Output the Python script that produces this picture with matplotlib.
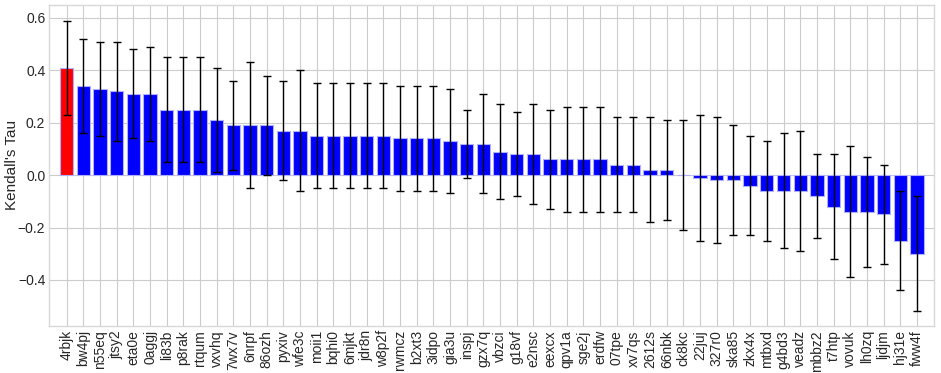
import numpy as np
import matplotlib
matplotlib.use("Agg")
import matplotlib.pyplot as plt

plt.style.use("seaborn-v0_8-whitegrid")
plt.rcParams['font.family'] = ['Liberation Sans', 'DejaVu Sans']

names = ["4rbjk", "bw4pj", "n55eq", "jtsy2", "eta0e", "0aggj", "li83b", "p8rak",
         "rtqum", "vxvhq", "7wx7v", "6nrpf", "86ozh", "pyxiv", "wfe3c", "moii1",
         "bqhi0", "6mjkt", "jdr8n", "w8p2f", "rwmcz", "b2xt3", "3idpo", "gia3u",
         "inspj", "gzx7q", "vbzci", "g18vf", "e2nsc", "eexcx", "qpv1a", "sge2j",
         "erdfw", "07tpe", "xv7qs", "2612s", "66nbk", "ck8kc", "22juj", "327r0",
         "ska85", "zkx4x", "mtbxd", "g4bd3", "veadz", "mbbz2", "t7htp", "vovuk",
         "lh0zq", "ljdjm", "hj31e", "fww4f"]

tau = [0.41, 0.34, 0.33, 0.32, 0.31, 0.31, 0.25, 0.25,
       0.25, 0.21, 0.19, 0.19, 0.19, 0.17, 0.17, 0.15,
       0.15, 0.15, 0.15, 0.15, 0.14, 0.14, 0.14, 0.13,
       0.12, 0.12, 0.09, 0.08, 0.08, 0.06, 0.06, 0.06,
       0.06, 0.04, 0.04, 0.02, 0.02, 0.00, -0.01, -0.02,
       -0.02, -0.04, -0.06, -0.06, -0.06, -0.08, -0.12, -0.14,
       -0.14, -0.15, -0.25, -0.30]

err = [0.18, 0.18, 0.18, 0.19, 0.17, 0.18, 0.20, 0.20,
       0.20, 0.20, 0.17, 0.24, 0.19, 0.19, 0.23, 0.20,
       0.20, 0.20, 0.20, 0.20, 0.20, 0.20, 0.20, 0.20,
       0.13, 0.19, 0.18, 0.16, 0.19, 0.19, 0.20, 0.20,
       0.20, 0.18, 0.18, 0.20, 0.19, 0.21, 0.24, 0.24,
       0.21, 0.19, 0.19, 0.22, 0.23, 0.16, 0.20, 0.25,
       0.21, 0.19, 0.19, 0.22]

colors = ['red'] + ['blue'] * (len(names) - 1)
x = np.arange(len(names))

fig = plt.figure(figsize=(9.41, 3.73), dpi=100)
ax = fig.add_axes([0.0526, 0.126, 0.940, 0.861])
ax.bar(x, tau, width=0.8, color=colors, edgecolor='#b0b0ff', linewidth=0.8,
       yerr=err, ecolor='black', capsize=3, error_kw={'elinewidth': 1, 'capthick': 1})
ax.set_xticks(x)
ax.set_xticklabels(names, rotation=90, fontsize=10)
ax.tick_params(axis='y', labelsize=10, pad=3)
ax.tick_params(axis='x', pad=3)
ax.set_xlim(-1.03, 52.03)
ax.set_ylim(-0.576, 0.65)
ax.set_yticks([-0.4, -0.2, 0.0, 0.2, 0.4, 0.6])
ax.set_ylabel("Kendall's Tau", fontsize=11)
ax.yaxis.set_label_coords(-0.034, 0.5)
ax.set_axisbelow(True)
for s in ax.spines.values():
    s.set_visible(True)
    s.set_color('#d8d8d8')

fig.savefig("out.png", dpi=100)
